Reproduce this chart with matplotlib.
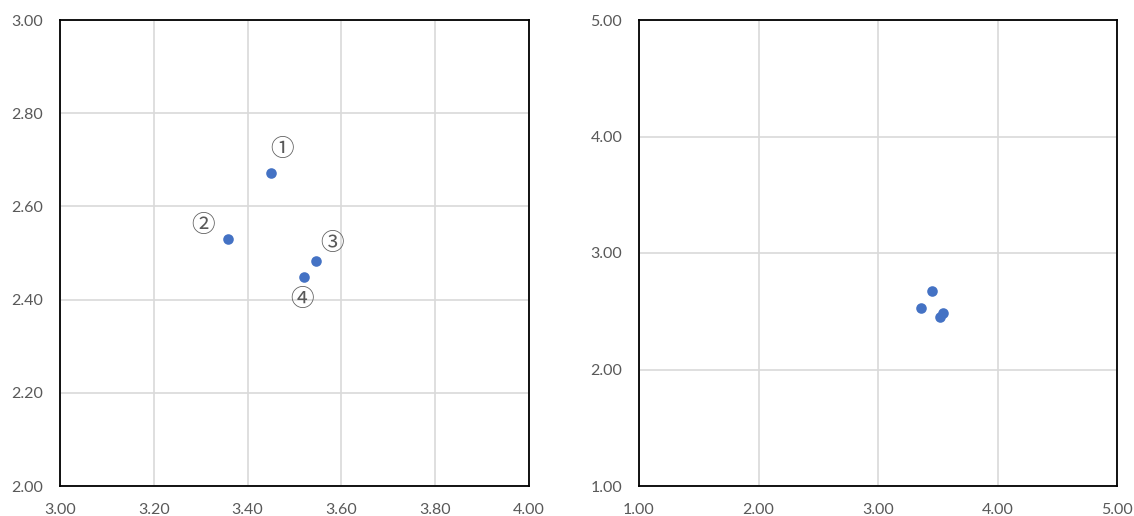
import matplotlib
matplotlib.use("Agg")
import matplotlib.pyplot as plt
from matplotlib.ticker import FormatStrFormatter

x_vals = [3.450, 3.358, 3.546, 3.520]
y_vals = [2.671, 2.530, 2.482, 2.449]
labels = ["①", "②", "③", "④"]
label_offsets = [(10.6, 23.6), (-24.4, 13.3), (16.0, 18.3), (-1.4, -22.3)]

left_xticks = [3.00, 3.20, 3.40, 3.60, 3.80, 4.00]
left_yticks = [2.00, 2.20, 2.40, 2.60, 2.80, 3.00]
right_ticks = [1.00, 2.00, 3.00, 4.00, 5.00]

W, H = 1134, 516
fig = plt.figure(figsize=(W / 100, H / 100), dpi=100)

def make_ax(l, r, t, b):
    return fig.add_axes([l / W, 1 - b / H, (r - l) / W, (b - t) / H])

ax1 = make_ax(60, 529, 20, 486)
ax2 = make_ax(639, 1117, 20, 486)

blue = "#4472C4"
for ax, xt, yt in [(ax1, left_xticks, left_yticks), (ax2, right_ticks, right_ticks)]:
    ax.set_xlim(xt[0], xt[-1])
    ax.set_ylim(yt[0], yt[-1])
    ax.set_xticks(xt)
    ax.set_yticks(yt)
    ax.xaxis.set_major_formatter(FormatStrFormatter("%.2f"))
    ax.yaxis.set_major_formatter(FormatStrFormatter("%.2f"))
    ax.grid(True, color="#D9D9D9", linewidth=1.2, zorder=0)
    ax.set_axisbelow(True)
    for s in ax.spines.values():
        s.set_color("black")
        s.set_linewidth(1.3)
    ax.tick_params(length=0, labelsize=11.5, labelcolor="#595959", pad=12)
    for lab in ax.get_xticklabels() + ax.get_yticklabels():
        lab.set_family("Lato")
    ax.scatter(x_vals, y_vals, s=58, color=blue, zorder=3, linewidths=0)

for xv, yv, lab, off in zip(x_vals, y_vals, labels, label_offsets):
    ax1.annotate(lab, (xv, yv), xytext=off, textcoords="offset pixels",
                 ha="center", va="center", fontsize=17, color="#595959",
                 family=["Noto Sans CJK JP", "DejaVu Sans"])

fig.savefig("out.png", dpi=100)
